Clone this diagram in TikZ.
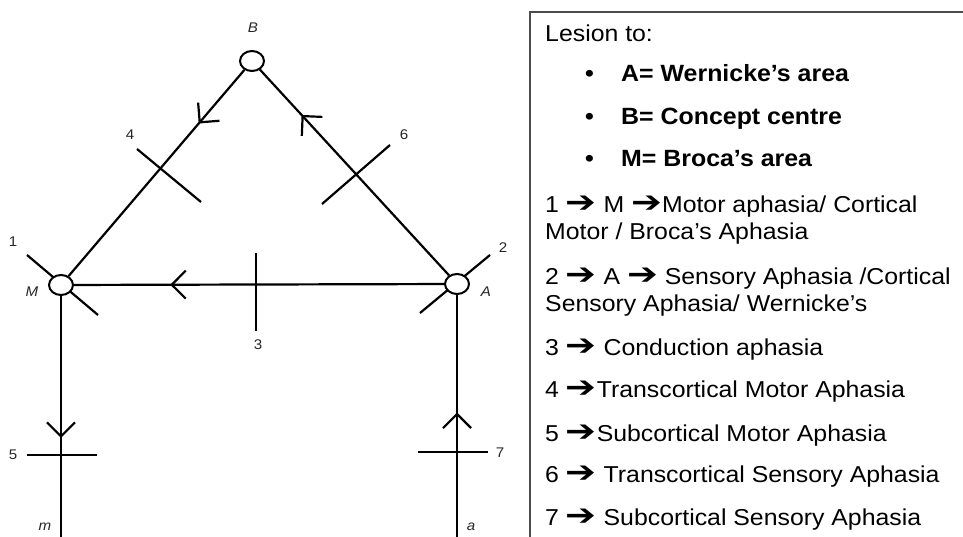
\documentclass[tikz,border=0pt]{standalone}
\usepackage{fontspec}
\setmainfont[FakeStretch=1.08]{Liberation Sans}
\newfontfamily\boldwide[FakeStretch=1.06]{Liberation Sans Bold}
\newfontfamily\symfont{DejaVu Sans}
\usetikzlibrary{arrows.meta,shapes.geometric,decorations.markings}
\tikzset{
  area/.style={draw=black, ellipse, line width=2pt, minimum width=24pt,
    minimum height=20pt, inner sep=0pt, fill=white},
  fibre/.style={line width=2.2pt},
  lesion/.style={line width=2.2pt},
  midarr/.style={postaction={decorate, decoration={markings,
    mark=at position #1 with {\arrow[line width=2.2pt]{Straight Barb[length=14pt,width=28pt]}}}}},
  lbl/.style={font=\fontsize{14}{14}\selectfont\itshape, text=black!85, inner sep=0pt},
  num/.style={font=\fontsize{14}{14}\selectfont, text=black!85, inner sep=0pt},
  txt/.style={anchor=base west, inner sep=0pt, font=\fontsize{23}{27}\selectfont},
  bul/.style={anchor=base west, inner sep=0pt, font=\fontsize{23.5}{27}\boldwide},
  frame/.style={draw=black!70, line width=1.6pt}
}
\newcommand\rarr{\scalebox{1.6}[1.3]{\symfont ➔}}
\begin{document}
\begin{tikzpicture}[x=1pt, y=-1pt]
  \useasboundingbox (0,0) rectangle (963,537);

  % lesion bars through M and A, below the circles
  \draw[lesion] (27,255) -- (98,315);
  \draw[lesion] (490,255) -- (420,313);

  % centres
  \node[area] (B) at (252,61) {};
  \node[area] (M) at (61,285) {};
  \node[area] (A) at (457,284) {};
  \coordinate (mout) at (61,545);
  \coordinate (ain) at (457,545);

  \draw[fibre, midarr=0.26] (B) -- (M);
  \draw[fibre, midarr=0.78] (A) -- (B);
  \draw[fibre, midarr=0.74] (A) -- (M);
  \draw[fibre, midarr=0.57] (M) -- (mout);
  \draw[fibre, midarr=0.53] (ain) -- (A);

  % lesion bars
  \draw[lesion] (137,149) -- (201,202);
  \draw[lesion] (322,204) -- (390,145);
  \draw[lesion] (256,253) -- (256,331);
  \draw[lesion] (27,455) -- (97,455);
  \draw[lesion] (418,452) -- (488,452);

  \node[lbl] (labB) at (253,28) {B};
  \node[lbl] (labM) at (32,292) {M};
  \node[lbl] (labA) at (486,292) {A};
  \node[lbl] (labm) at (45,527) {m};
  \node[lbl] (laba) at (471,527) {a};
  \node[num] (n1) at (13,242) {1};
  \node[num] (n2) at (503,248) {2};
  \node[num] (n3) at (258,345) {3};
  \node[num] (n4) at (130,135) {4};
  \node[num] (n5) at (13,455) {5};
  \node[num] (n6) at (404,135) {6};
  \node[num] (n7) at (500,453) {7};

  % legend box
  \draw[frame] (530,545) -- (530,12) -- (963,12);
  \node[txt] (head) at (545,42) {Lesion to:};
  \node[bul] (itemA) at (585,82) {\makebox[36pt][l]{•}A= Wernicke’s area};
  \node[bul] (itemB) at (585,125) {\makebox[36pt][l]{•}B= Concept centre};
  \node[bul] (itemM) at (585,167) {\makebox[36pt][l]{•}M= Broca’s area};
  \node[txt] (type1a) at (545,213) {1 \rarr{} M \rarr{}Motor aphasia/ Cortical};
  \node[txt] (type1b) at (545,240) {Motor / Broca’s Aphasia};
  \node[txt] (type2a) at (545,284) {2 \rarr{} A \rarr{} Sensory Aphasia /Cortical};
  \node[txt] (type2b) at (545,311) {Sensory Aphasia/ Wernicke’s};
  \node[txt] (type3) at (545,355) {3 \rarr{} Conduction aphasia};
  \node[txt] (type4) at (545,397) {4 \rarr{}Transcortical Motor Aphasia};
  \node[txt] (type5) at (545,441) {5 \rarr{}Subcortical Motor Aphasia};
  \node[txt] (type6) at (545,482) {6 \rarr{} Transcortical Sensory Aphasia};
  \node[txt] (type7) at (545,525) {7 \rarr{} Subcortical Sensory Aphasia};
\end{tikzpicture}
\end{document}
